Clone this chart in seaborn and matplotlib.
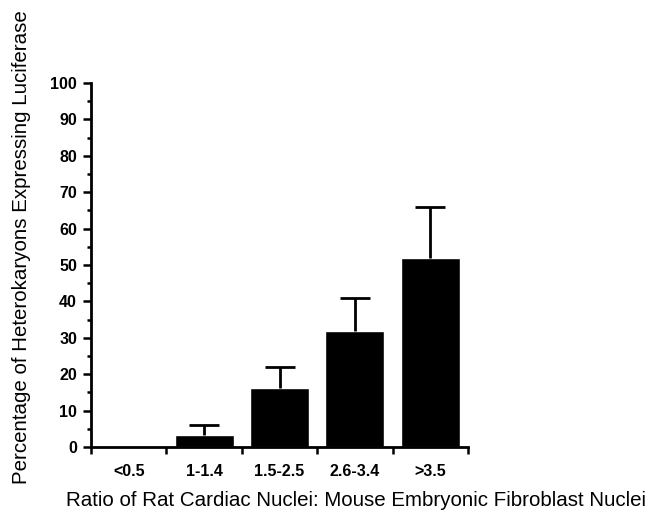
import matplotlib
matplotlib.use("Agg")
import matplotlib.pyplot as plt
import seaborn as sns
import pandas as pd
import numpy as np
from matplotlib.ticker import MultipleLocator, FixedLocator

categories = ["<0.5", "1-1.4", "1.5-2.5", "2.6-3.4", ">3.5"]
values = [0, 3.3, 16.2, 32, 52]
err_upper = [0, 2.7, 5.8, 9, 14]
yticks = list(range(0, 101, 10))

sns.set_style("ticks")
plt.rcParams['font.family'] = ['Liberation Sans', 'DejaVu Sans']
plt.rcParams['text.color'] = 'black'
plt.rcParams['xtick.color'] = 'black'
plt.rcParams['ytick.color'] = 'black'

fig = plt.figure(figsize=(6.62, 5.16), dpi=100)
ax = fig.add_axes([91/662, 1-447/516, (468-91)/662, (447-83)/516])

df = pd.DataFrame({"cat": categories, "val": values})
sns.barplot(data=df, x="cat", y="val", color="black", width=0.78,
            errorbar=None, ax=ax, saturation=1)

xs = np.arange(len(categories))
mask = np.array(err_upper) > 0
cont = ax.errorbar(xs[mask], np.array(values)[mask],
                   yerr=[np.zeros(mask.sum()), np.array(err_upper)[mask]],
                   fmt="none", ecolor="black", elinewidth=2, capsize=11, capthick=2)
# hide the lower caps (one-sided error bars)
caplines = cont.lines[1]
if len(caplines) == 2:
    caplines[0].set_visible(False)

ax.set_xlim(-0.5, 4.5)
ax.set_ylim(0, 100)
ax.set_yticks(yticks)
ax.set_yticklabels([str(t) for t in yticks], fontsize=11.5, fontweight="bold", color="black")
ax.yaxis.set_minor_locator(MultipleLocator(5))
ax.tick_params(axis="y", which="major", length=6, width=1.8, direction="out", pad=4, colors="black")
ax.tick_params(axis="y", which="minor", length=3, width=1.8, direction="out", colors="black")

ax.set_xticks(xs)
ax.set_xticklabels(categories, fontsize=11.5, fontweight="bold", color="black")
ax.xaxis.set_minor_locator(FixedLocator(np.arange(-0.5, 5, 1.0)))
ax.tick_params(axis="x", which="major", length=0, pad=12, colors="black")
ax.tick_params(axis="x", which="minor", length=5, width=1.8, direction="out", colors="black")

for s in ["top", "right"]:
    ax.spines[s].set_visible(False)
for s in ["left", "bottom"]:
    ax.spines[s].set_linewidth(2)
    ax.spines[s].set_color("black")

ax.set_xlabel("")
ax.set_ylabel("")
fig.text(22/662, 1-247/516, "Percentage of Heterokaryons Expressing Luciferase",
         rotation=90, ha="center", va="center", fontsize=14.8, color="black")
fig.text(356/662, 1-500/516, "Ratio of Rat Cardiac Nuclei: Mouse Embryonic Fibroblast Nuclei",
         ha="center", va="center", fontsize=14.8, color="black")

fig.savefig("out.png", dpi=100)
